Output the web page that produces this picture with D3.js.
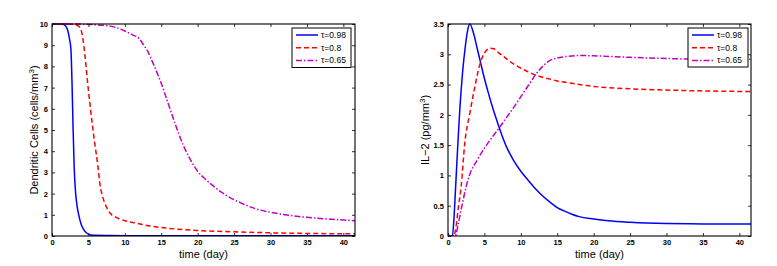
<!DOCTYPE html>
<html><head><meta charset="utf-8">
<script src="https://cdn.jsdelivr.net/npm/d3@7"></script>
<style>body{margin:0;background:#fff}svg{display:block}text{font-family:"Liberation Sans",Arial,Helvetica,sans-serif}</style>
</head><body>
<svg id="c" width="777" height="266"></svg>
<script>
// ---- data ----
const seriesNames = ["τ=0.98", "τ=0.8", "τ=0.65"];
const xTicks = [0,5,10,15,20,25,30,35,40];
const dcTicks = [0,1,2,3,4,5,6,7,8,9,10];
const il2Ticks = [0,0.5,1,1.5,2,2.5,3,3.5];
const il2TickLabels = ["0","0.5","1","1.5","2","2.5","3","3.5"];

// Dendritic cells
const dcT098 = [0,1,1.6,2.06,2.4,2.6,2.75,2.9,3.05,3.25,3.45,3.67,4.0,4.35,4.8,5.3,6,8,12,20,30,41.6];
const dcV098 = [10,10,9.98,9.8,9.3,8.8,7.2,5,3.2,2,1.4,1,0.55,0.3,0.13,0.05,0.03,0.02,0.015,0.01,0.01,0.01];
const dcT08 = [0,2,3,3.5,3.9,4.2,4.5,4.9,5.3,5.8,6.3,6.6,7.0,7.5,8.0,9,10,11.7,13,15,17,20,25,30,35,41.6];
const dcV08 = [10,10,9.98,9.93,9.8,9.4,8.6,7.2,5.95,4.55,3.3,2.4,1.8,1.35,1.07,0.85,0.72,0.6,0.5,0.4,0.33,0.26,0.2,0.15,0.12,0.1];
const dcT065 = [0,3,5,8,10,11,12,12.6,13,14,15,16,17,18,19,20,21,22,23,24,26,28,30,32,35,38,41.6];
const dcV065 = [10,10,9.98,9.9,9.67,9.5,9.3,9.0,8.8,8.05,7.2,6.2,5.2,4.3,3.6,3.05,2.7,2.4,2.13,1.9,1.55,1.28,1.12,1.0,0.88,0.8,0.72];

// IL-2
const ilT098 = [0,0.6,0.8,1.0,1.3,1.6,2.0,2.4,2.7,3.0,3.5,4,4.5,5,5.5,6,6.5,7,7.5,8,9,10,11,12,13,14,15,16,17,18,20,22,25,30,35,41.6];
const ilV098 = [0,0,0.25,0.7,1.4,2.05,2.7,3.15,3.4,3.5,3.35,3.1,2.85,2.6,2.38,2.17,1.98,1.8,1.63,1.48,1.25,1.07,0.92,0.78,0.66,0.56,0.47,0.41,0.36,0.32,0.28,0.25,0.225,0.205,0.2,0.2];
const ilT08 = [0,0.8,1.1,1.4,1.8,2.3,3,3.6,4.3,5,5.8,6.3,7,8,9,10,11,12,13,14,15,17,20,25,30,35,41.6];
const ilV08 = [0,0,0.15,0.45,0.81,1.53,2.03,2.41,2.8,3.02,3.1,3.09,3.02,2.93,2.84,2.77,2.71,2.66,2.62,2.59,2.56,2.52,2.47,2.43,2.41,2.395,2.385];
const ilT065 = [0,1.0,1.4,2,2.5,3,4,5,6,7,8,9,10,11,12,13,14,15,16,18,20,25,30,35,41.6];
const ilV065 = [0,0,0.2,0.55,0.82,1.02,1.25,1.45,1.62,1.78,1.95,2.12,2.3,2.48,2.66,2.8,2.9,2.94,2.96,2.98,2.975,2.95,2.93,2.92,2.92];

const colors = ["#0000ff","#ff0000","#c400c4"];
const dashes = [null, "5,3", "6,2,1.5,2"];

// ---- drawing ----
const svg = d3.select("#c");
const xMax = 41.6;

function panel(cfg){
  const {left,right,top,bottom,yMax,yTicks,yLabels,series,ylabel,ylx,legend} = cfg;
  const x = d3.scaleLinear().domain([0,xMax]).range([left,right]);
  const y = d3.scaleLinear().domain([0,yMax]).range([bottom,top]);
  const g = svg.append("g");
  const id = "clip"+left;
  svg.append("clipPath").attr("id",id).append("rect")
    .attr("x",left).attr("y",top-1).attr("width",right-left).attr("height",bottom-top+1);

  const tl = 3;
  const axB = d3.axisBottom(x).tickValues(xTicks).tickSize(-tl).tickPadding(4).tickFormat(d3.format("d"));
  const axT = d3.axisTop(x).tickValues(xTicks).tickSize(-tl).tickFormat("");
  const axL = d3.axisLeft(y).tickValues(yTicks).tickSize(-tl).tickPadding(4).tickFormat((d,i)=>yLabels[i]);
  const axR = d3.axisRight(y).tickValues(yTicks).tickSize(-tl).tickFormat("");
  [[axB,`translate(0,${bottom})`],[axT,`translate(0,${top})`],[axL,`translate(${left},0)`],[axR,`translate(${right},0)`]]
   .forEach(([a,t])=>{
     const ag = g.append("g").attr("transform",t).call(a);
     ag.select(".domain").remove();
     ag.selectAll("line").attr("stroke","#000").attr("stroke-width",0.8);
     ag.selectAll("text").attr("font-size",7.5).attr("fill","#000").attr("font-weight","bold");
   });

  const line = d3.line().x(d=>x(d[0])).y(d=>y(d[1])).curve(d3.curveMonotoneX);
  series.forEach((s,i)=>{
    const pts = s.t.map((t,j)=>[t,s.v[j]]);
    g.append("path").attr("d",line(pts)).attr("fill","none")
      .attr("stroke",colors[i]).attr("stroke-width",1.5)
      .attr("stroke-dasharray",dashes[i]).attr("clip-path",`url(#${id})`);
  });

  g.append("rect").attr("x",left).attr("y",top).attr("width",right-left).attr("height",bottom-top)
    .attr("fill","none").attr("stroke","#000").attr("stroke-width",1.1);

  g.append("text").attr("x",(left+right)/2).attr("y",258).attr("text-anchor","middle")
    .attr("font-size",11).text("time (day)");
  const yl = g.append("text").attr("transform",`translate(${ylx},${(top+bottom)/2}) rotate(-90)`)
    .attr("text-anchor","middle").attr("font-size",11);
  ylabel(yl);

  const L = legend;
  g.append("rect").attr("x",L.x0).attr("y",L.y0).attr("width",L.x1-L.x0).attr("height",L.y1-L.y0)
    .attr("fill","#fff").attr("stroke","#000").attr("stroke-width",1);
  seriesNames.forEach((n,i)=>{
    const yy = L.y0+7+i*12.7;
    g.append("line").attr("x1",L.lx0).attr("x2",L.lx1).attr("y1",yy).attr("y2",yy)
      .attr("stroke",colors[i]).attr("stroke-width",1.5).attr("stroke-dasharray",dashes[i]);
    g.append("text").attr("x",L.tx).attr("y",yy+3).attr("font-size",8.5).text(n);
  });
}

panel({left:52,right:355,top:24,bottom:236,yMax:10,yTicks:dcTicks,yLabels:dcTicks.map(String),
  series:[{t:dcT098,v:dcV098},{t:dcT08,v:dcV08},{t:dcT065,v:dcV065}],
  ylx:38,
  ylabel:t=>{t.append("tspan").text("Dendritic Cells (cells/mm");t.append("tspan").attr("dy",-4).attr("font-size",8).text("3");t.append("tspan").attr("dy",4).text(")");},
  legend:{x0:292,x1:351,y0:28,y1:67.5,lx0:296,lx1:318,tx:321}});

panel({left:448,right:751,top:24,bottom:236,yMax:3.5,yTicks:il2Ticks,yLabels:il2TickLabels,
  series:[{t:ilT098,v:ilV098},{t:ilT08,v:ilV08},{t:ilT065,v:ilV065}],
  ylx:429,
  ylabel:t=>{t.append("tspan").text("IL\u22122 (pg/mm");t.append("tspan").attr("dy",-4).attr("font-size",8).text("3");t.append("tspan").attr("dy",4).text(")");},
  legend:{x0:688,x1:748,y0:28,y1:67,lx0:692,lx1:714,tx:717}});
</script>
</body></html>
